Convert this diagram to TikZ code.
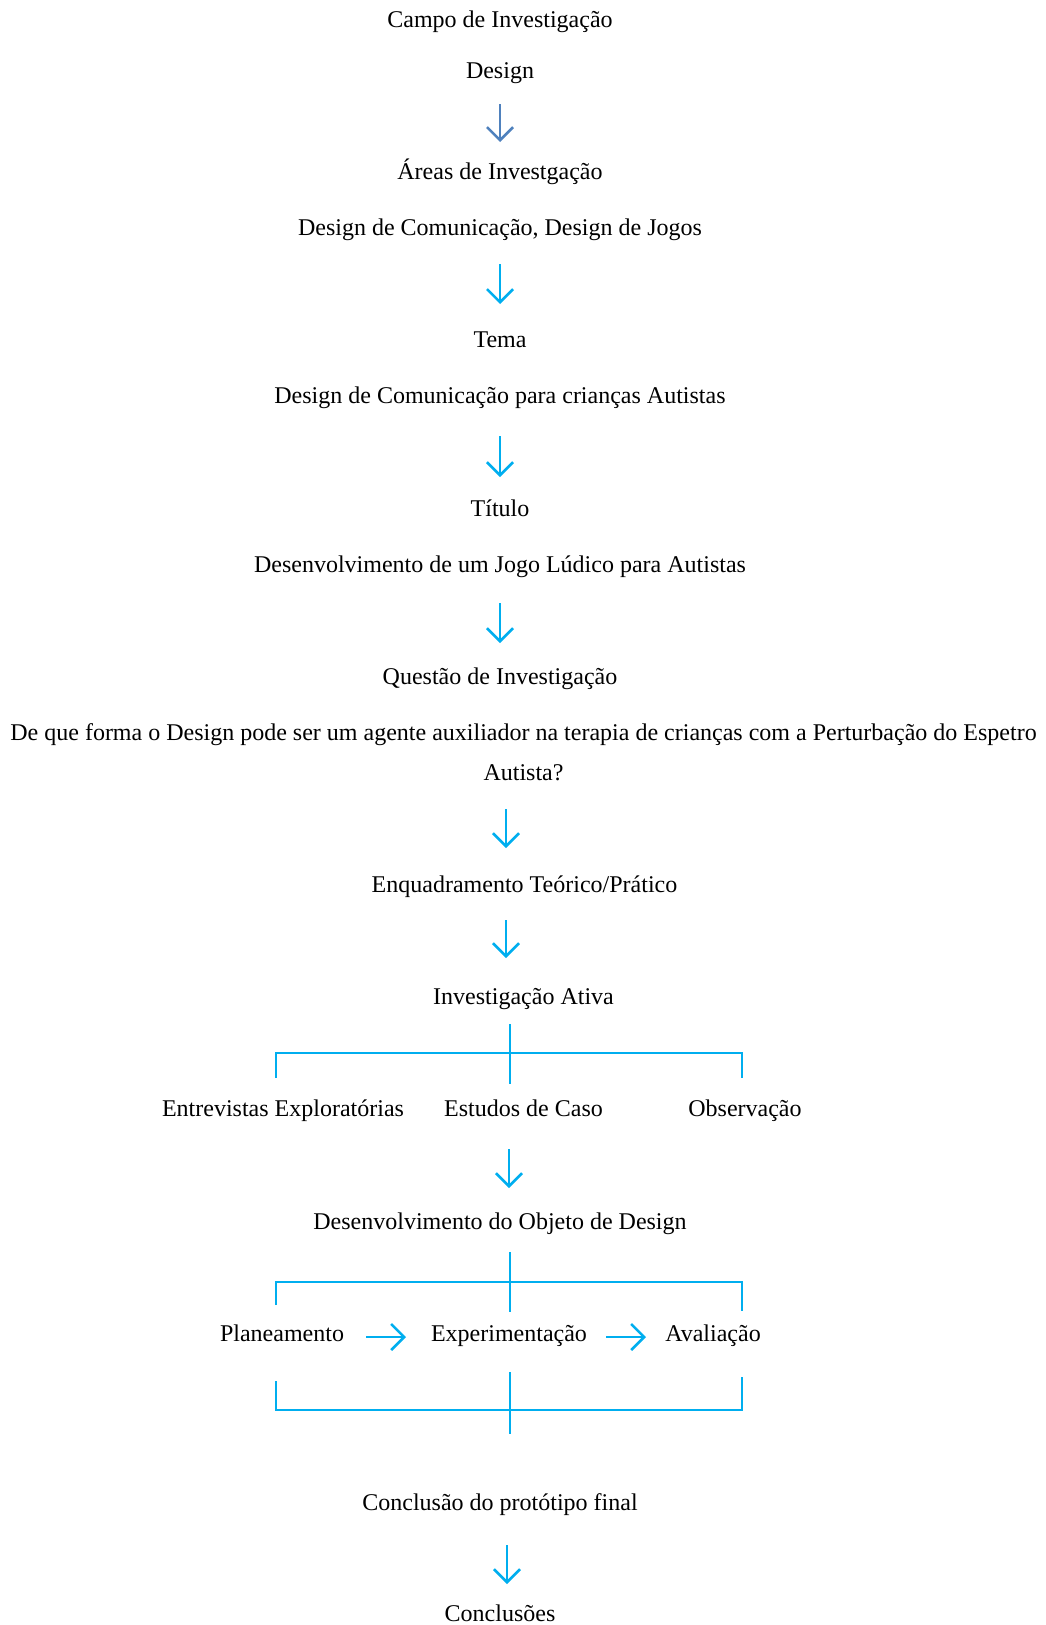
\documentclass[tikz,border=0pt]{standalone}
\usepackage{fontspec}
\setmainfont{Liberation Serif}
\usetikzlibrary{arrows.meta,calc}
\definecolor{cy}{RGB}{0,174,239}
\definecolor{sb}{RGB}{79,129,189}
\begin{document}
\begin{tikzpicture}[x=1pt,y=-1pt,
  lbl/.style={font=\fontsize{24}{28}\selectfont, inner sep=0pt, text=black, text height=17pt, text depth=5pt, yshift=-2pt},
  arr/.style={draw=cy, line width=2.6pt, -{Straight Barb[length=13pt,width=26pt,line width=2.6pt]}},
  arrd/.style={arr, draw=sb},
  brk/.style={draw=cy, line width=2.4pt}]
\useasboundingbox (0,0) rectangle (1045,1625);
\node[lbl] (campo) at (500,19) {Campo de Investigação};
\node[lbl] (design) at (500,70) {Design};
\node[lbl] (areas) at (500,171) {Áreas de Investgação};
\node[lbl] (areasv) at (500,227) {Design de Comunicação, Design de Jogos};
\node[lbl] (tema) at (500,339) {Tema};
\node[lbl] (temav) at (500,395) {Design de Comunicação para crianças Autistas};
\node[lbl] (titulo) at (500,508) {Título};
\node[lbl] (titulov) at (500,564) {Desenvolvimento de um Jogo Lúdico para Autistas};
\node[lbl] (questao) at (500,676) {Questão de Investigação};
\node[lbl] (q1) at (523.5,732) {De que forma o Design pode ser um agente auxiliador na terapia de crianças com a Perturbação do Espetro};
\node[lbl] (q2) at (523.5,772) {Autista?};
\node[lbl] (enq) at (524.5,884) {Enquadramento Teórico/Prático};
\node[lbl] (ativa) at (523.5,996) {Investigação Ativa};
\node[lbl] (entr) at (283,1108) {Entrevistas Exploratórias};
\node[lbl] (estu) at (523.5,1108) {Estudos de Caso};
\node[lbl] (obs) at (745,1108) {Observação};
\node[lbl] (dod) at (500,1221) {Desenvolvimento do Objeto de Design};
\node[lbl] (plan) at (282,1333) {Planeamento};
\node[lbl] (exp) at (509,1333) {Experimentação};
\node[lbl] (aval) at (713,1333) {Avaliação};
\node[lbl] (concl) at (500,1502) {Conclusão do protótipo final};
\node[lbl] (concls) at (500,1613) {Conclusões};

\draw[arrd] ($(design)+(0,32)$) -- ($(areas)+(0,-31)$);
\draw[arr] ($(areasv)+(0,35)$) -- ($(tema)+(0,-37)$);
\draw[arr] ($(temav)+(0,39)$) -- ($(titulo)+(0,-33)$);
\draw[arr] ($(titulov)+(0,37)$) -- ($(questao)+(0,-35)$);
\draw[arr] ($(q2)+(-17.5,35)$) -- ($(enq)+(-18.5,-38)$);
\draw[arr] ($(enq)+(-18.5,34)$) -- ($(ativa)+(-17.5,-40)$);
\draw[arr] ($(estu)+(-14.5,39)$) -- ($(dod)+(9,-35)$);
\draw[arr] ($(concl)+(7,41)$) -- ($(concls)+(7,-31)$);
\draw[arr] ($(plan)+(84,2)$) -- ($(exp)+(-103,2)$);
\draw[arr] ($(exp)+(97,2)$) -- ($(aval)+(-67,2)$);

% bracket 1
\coordinate (b1t) at (510,1024);
\coordinate (b1b) at (510,1084);
\coordinate (b1l) at (276,1053);
\coordinate (b1r) at (742,1053);
\draw[brk] (b1t) -- (b1b);
\draw[brk] ($(b1l)+(0,25)$) -- (b1l) -- (b1r) -- ($(b1r)+(0,25)$);
% bracket 2 top
\coordinate (b2t) at (510,1252);
\coordinate (b2b) at (510,1312);
\coordinate (b2l) at (276,1282);
\coordinate (b2r) at (742,1282);
\draw[brk] (b2t) -- (b2b);
\draw[brk] ($(b2l)+(0,23)$) -- (b2l) -- (b2r) -- ($(b2r)+(0,29)$);
% bracket 2 bottom
\coordinate (b3t) at (510,1372);
\coordinate (b3b) at (510,1434);
\coordinate (b3l) at (276,1410);
\coordinate (b3r) at (742,1410);
\draw[brk] (b3t) -- (b3b);
\draw[brk] ($(b3l)+(0,-29)$) -- (b3l) -- (b3r) -- ($(b3r)+(0,-33)$);
\end{tikzpicture}
\end{document}
